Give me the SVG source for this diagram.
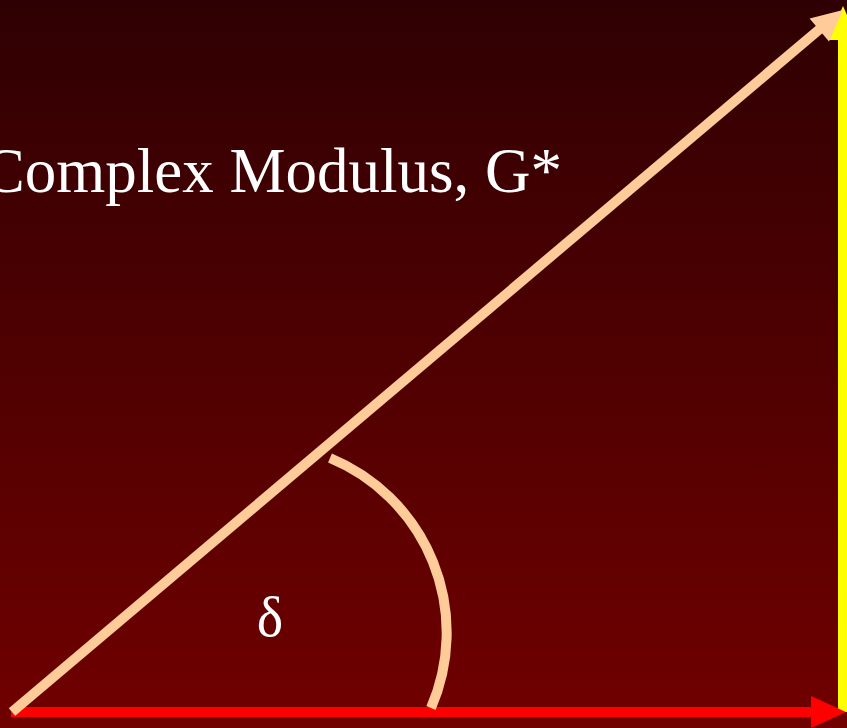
<svg xmlns="http://www.w3.org/2000/svg" width="847" height="728" viewBox="0 0 847 728">
  <defs>
    <linearGradient id="bg" x1="0" y1="0" x2="0" y2="1">
      <stop offset="0" stop-color="#2f0003"/>
      <stop offset="1" stop-color="#710000"/>
    </linearGradient>
  </defs>
  <style>
    .lbl { font-family: "Liberation Serif", "Times New Roman", serif; fill: #ffffff; }
    .peach { stroke: #ffcc99; fill: none; stroke-width: 10; }
  </style>
  <rect x="0" y="0" width="847" height="728" fill="url(#bg)"/>
  <g id="connectors">
    <g id="imag-axis">
      <line x1="843" y1="712" x2="843" y2="38" stroke="#ffff00" stroke-width="10"/>
      <polygon points="828,40 858,40 843,6" fill="#ffff00"/>
    </g>
    <g id="real-axis">
      <line x1="11" y1="712" x2="813" y2="712" stroke="#ff0000" stroke-width="10"/>
      <polygon points="811,696 811,728 846,712" fill="#ff0000"/>
    </g>
    <g id="modulus">
      <line class="peach" x1="12" y1="712" x2="821" y2="28"/>
      <polygon points="843,10 829,41.5 809.6,18.5" fill="#ffcc99"/>
    </g>
    <g id="angle-arc">
      <path class="peach" stroke-width="9" d="M 330 458 A 189 189 0 0 1 431 708"/>
    </g>
  </g>
  <g id="label-modulus">
    <text class="lbl" x="562" y="192" font-size="63" text-anchor="end">Complex Modulus, G*</text>
  </g>
  <g id="label-delta">
    <text class="lbl" x="270" y="636" font-size="56" text-anchor="middle">δ</text>
  </g>
</svg>
